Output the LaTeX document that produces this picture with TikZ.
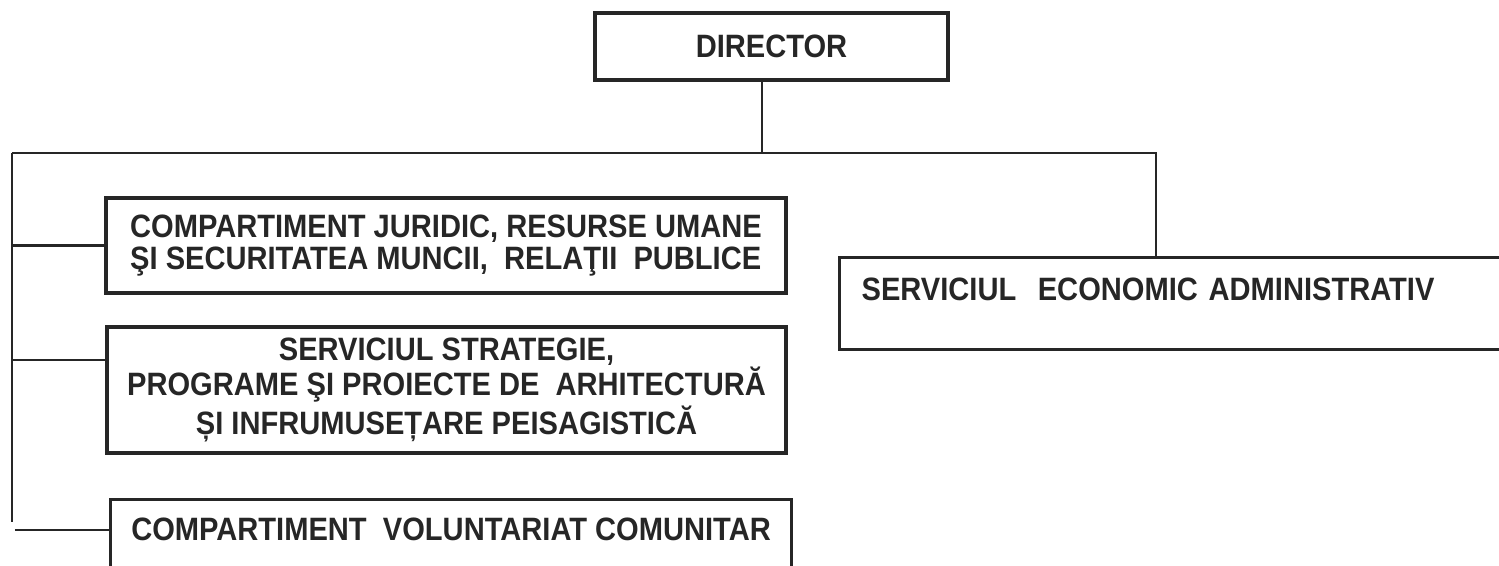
\documentclass[tikz,border=0pt]{standalone}
\usepackage{fontspec}
\setmainfont{Liberation Sans}[FakeStretch=0.9]

\begin{document}
\begin{tikzpicture}[
    orgbox/.style={draw=black!85, line width=0.9pt, inner sep=0pt, text=black!85,
        font={\fontsize{9.2}{10}\selectfont\bfseries}},
    link/.style={draw=black!85, line width=0.7pt}]
            \useasboundingbox (0,0) rectangle (14.99,-5.65);
            \clip (0,0) rectangle (14.99,-5.65);
            % boxes
            \node[orgbox, minimum width=3.53cm, minimum height=0.67cm] (director) at (7.715,-0.465) {DIRECTOR};
            \node[orgbox, align=left, minimum width=6.8cm, minimum height=0.95cm,
                font={\fontsize{9.2}{9.1}\selectfont\bfseries}] (jur) at (4.46,-2.455)
                {COMPARTIMENT JURIDIC, RESURSE UMANE\\ŞI SECURITATEA MUNCII,\ \ RELAŢII\ \ PUBLICE};
            \node[orgbox, align=center, minimum width=6.79cm, minimum height=1.26cm] (strat) at (4.465,-3.90)
                {SERVICIUL STRATEGIE,\\PROGRAME ŞI PROIECTE DE\ \ ARHITECTURĂ\\ȘI INFRUMUSEȚARE PEISAGISTICĂ};
            \node[orgbox, anchor=north west, minimum width=6.81cm,
                text height=0.405cm, text depth=1cm] (vol) at (1.09,-4.98)
                {COMPARTIMENT\ \ VOLUNTARIAT COMUNITAR};
            \node[orgbox, anchor=north west, align=left, inner xsep=0.22cm, text width=6.6cm,
                text height=0.425cm, text depth=0.495cm] (econ) at (8.38,-2.56)
                {SERVICIUL\ \ ECONOMIC ADMINISTRATIV};
            % connectors
            \coordinate (hub) at (7.62,-1.53);
            \coordinate (lefttop) at (0.12,-1.53);
            \coordinate (righttop) at (11.56,-1.53);
            \coordinate (leftend) at (0.12,-5.22);
            \coordinate (fork2) at (0.12,-3.60);
            \coordinate (fork3) at (0.15,-5.30);
            \draw[link] (hub |- director.south) -- (hub);
            \draw[link] (lefttop) -- (righttop) -- (righttop |- econ.north);
            \draw[link] (lefttop) -- (leftend);
            \draw[link] (lefttop |- jur.west) -- (jur.west);
            \draw[link] (fork2) -- (fork2 -| strat.west);
            \draw[link] (fork3) -- (fork3 -| vol.west);
        \end{tikzpicture}
\end{document}
